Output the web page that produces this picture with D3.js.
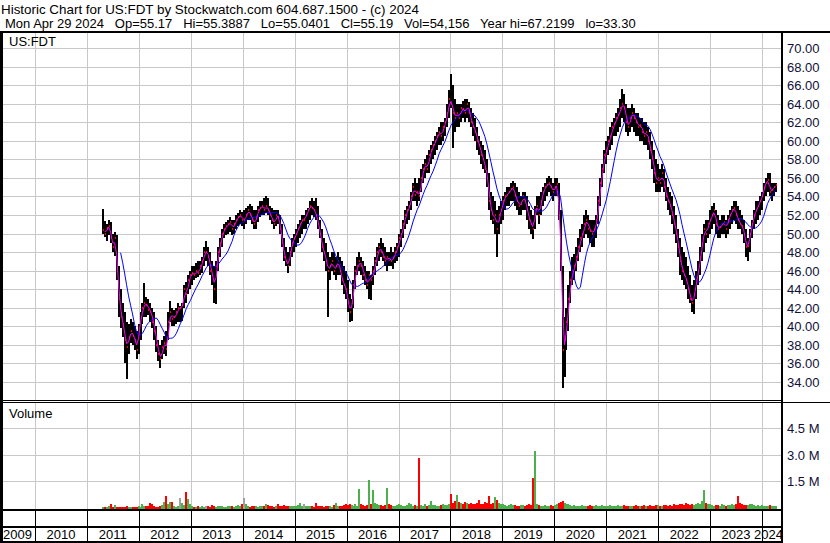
<!DOCTYPE html>
<html>
<head>
<meta charset="utf-8">
<script src="https://cdn.jsdelivr.net/npm/d3@7"></script>
<style>
  body { margin: 0; background: #fff; }
  svg { display: block; font-family: "Liberation Sans", Arial, sans-serif; }
  text { white-space: pre; }
</style>
</head>
<body>
<div class="main-container"></div>
<script>
const title = "Historic Chart for US:FDT by Stockwatch.com 604.687.1500 - (c) 2024";
const subtitle = "Mon Apr 29 2024   Op=55.17   Hi=55.3887   Lo=55.0401   Cl=55.19   Vol=54,156   Year hi=67.2199   lo=33.30";
const symbol = "US:FDT";

const yearLabels = ["2009","2010","2011","2012","2013","2014","2015","2016","2017","2018","2019","2020","2021","2022","2023","2024"];
const priceTicks = [34,36,38,40,42,44,46,48,50,52,54,56,58,60,62,64,66,68,70];
const volTicks = [1500000, 3000000, 4500000];
const volLabels = ["1.5 M", "3.0 M", "4.5 M"];

// one bar every two weeks from the first one
const firstBar = "2011-04-22";
const stepDays = 14;

const hi = [
  52.6,51.3,51.0,51.5,51.2,50.0,50.2,49.8,46.5,44.0,42.5,41.5,40.5,40.2,40.8,40.5,40.0,39.5,40.2,
  41.5,42.5,44.7,43.2,43.0,42.5,42.0,41.5,40.0,38.5,38.0,38.5,39.0,39.5,41.5,42.7,42.0,41.8,42.0,42.5,42.2,42.5,44.5,44.8,45.5,46.0,
  46.5,46.5,46.8,47.0,47.0,47.5,48.5,49.2,48.5,48.0,47.0,46.5,47.0,48.5,49.5,50.5,51.0,51.2,51.5,51.8,51.5,51.5,52.0,52.2,52.5,52.3,
  52.5,52.8,53.0,53.2,53.0,52.5,52.5,53.0,53.5,53.5,53.8,54.0,53.8,53.0,52.8,52.5,52.5,52.5,52.0,51.0,49.5,48.5,48.0,48.5,49.5,50.0,
  50.5,51.0,51.5,52.0,52.0,52.5,52.8,53.5,53.8,53.5,53.8,53.0,51.5,50.5,49.5,49.0,48.0,47.5,48.0,48.0,47.5,48.0,47.5,47.0,46.5,46.0,
  45.0,43.5,43.0,45.0,46.5,47.5,48.0,47.5,47.0,46.5,46.0,46.0,45.5,46.5,47.5,48.5,49.0,49.5,49.0,48.5,48.0,48.0,48.5,48.0,48.5,49.0,
  50.0,50.5,51.5,52.5,53.0,53.5,54.5,55.5,56.0,55.5,56.0,57.0,57.5,58.0,58.5,59.0,59.5,60.0,60.5,61.0,61.5,62.0,62.0,62.5,64.0,65.5,
  67.2,66.0,64.5,64.0,64.0,64.0,64.3,64.5,64.5,64.2,63.5,63.0,62.5,61.5,60.5,60.0,59.5,59.0,58.0,56.5,54.5,54.0,53.5,52.5,53.0,53.5,
  54.0,54.5,55.0,55.0,55.5,55.7,55.5,55.0,54.5,54.0,54.5,54.5,54.0,53.0,52.5,52.0,53.0,54.0,54.0,54.5,55.0,55.5,56.0,56.2,56.0,55.5,
  56.0,56.0,55.5,52.5,46.5,41.0,42.0,44.5,46.0,47.5,47.8,48.5,49.5,50.5,51.0,52.0,52.5,52.0,51.5,51.5,51.5,52.0,54.0,56.0,57.5,59.0,
  60.0,60.5,61.5,62.0,62.5,63.0,63.5,64.5,65.6,65.0,64.0,63.5,63.5,64.0,63.5,63.0,63.0,62.5,62.5,62.0,62.0,61.5,61.0,60.0,59.0,58.0,
  57.5,57.0,57.5,57.0,56.0,55.0,54.5,54.0,53.0,52.0,50.5,49.5,48.5,48.0,47.5,46.5,45.5,44.5,45.0,46.0,47.0,48.5,50.0,51.0,51.5,51.5,
  52.5,53.0,53.3,52.5,52.0,51.5,52.0,52.0,51.5,52.0,52.5,53.0,53.5,53.5,53.0,52.5,52.0,51.5,50.5,49.5,50.5,51.5,52.5,53.5,53.5,54.0,
  54.5,55.5,56.0,56.5,56.5,55.5,55.5,55.5
];
const lo = [
  50.0,49.6,49.2,49.8,49.0,48.0,47.6,45.0,41.0,39.8,38.8,36.0,34.3,37.0,38.2,38.0,37.5,36.5,37.0,
  38.5,40.2,41.0,41.0,41.2,40.5,39.8,38.5,37.2,36.3,35.5,36.5,37.0,36.8,38.5,40.5,40.0,40.0,40.2,40.5,40.5,40.6,42.0,42.5,43.5,44.0,
  44.5,45.0,45.2,45.3,45.5,45.8,46.5,47.0,46.5,45.5,44.5,42.5,42.4,46.0,47.5,48.5,49.5,49.8,50.0,50.2,49.8,50.0,50.5,50.8,51.0,50.8,
  50.5,51.0,51.5,51.5,51.0,50.5,50.5,51.2,51.8,52.0,52.0,52.2,52.0,51.5,51.0,50.5,50.8,51.0,50.0,48.5,47.0,46.5,45.8,46.5,47.5,48.0,
  48.5,49.0,49.5,50.0,50.5,50.5,51.0,51.5,52.0,51.8,51.5,50.5,49.5,48.0,47.0,46.0,41.0,45.0,46.0,45.5,45.0,45.5,45.5,44.5,43.5,43.0,
  41.5,40.5,40.6,42.0,44.0,45.5,46.0,45.5,45.0,44.5,44.0,43.0,42.8,44.5,45.5,46.5,47.0,47.5,47.0,46.5,46.0,46.5,46.5,46.2,46.8,47.0,
  47.5,48.5,49.5,50.5,51.0,51.5,52.5,53.5,53.5,53.0,53.5,54.5,55.5,56.0,56.5,56.5,57.5,58.0,58.5,59.0,59.5,59.5,60.0,60.5,61.5,62.5,
  63.5,59.2,61.0,61.5,61.5,62.0,62.5,62.0,62.5,62.0,61.5,60.5,60.0,59.0,58.5,57.5,57.0,56.5,55.0,52.5,51.5,51.0,50.0,47.5,50.0,51.0,
  51.5,52.5,53.0,53.0,53.5,53.5,53.0,52.5,52.0,52.0,52.5,52.5,51.5,50.5,50.0,49.4,50.5,52.0,51.0,52.0,53.0,53.5,54.0,54.5,54.0,53.5,
  54.0,54.0,51.5,46.0,33.3,34.5,37.5,39.5,42.5,44.5,45.0,46.0,47.0,48.0,48.5,49.5,50.0,49.5,49.0,48.5,48.5,49.5,51.0,53.0,55.0,56.5,
  57.5,58.5,59.0,59.5,60.5,60.5,61.0,61.5,62.5,62.0,61.0,60.5,61.0,61.5,61.0,60.5,60.5,60.0,60.0,59.5,59.5,59.0,58.0,57.0,55.5,54.5,
  54.5,54.5,55.0,54.5,53.5,52.5,52.0,51.0,50.0,49.0,47.5,45.5,45.0,44.5,44.0,43.0,42.5,41.5,41.3,43.0,44.5,45.5,47.0,48.0,49.0,49.5,
  50.0,50.5,51.0,50.0,49.5,49.5,50.0,50.0,49.5,50.0,50.5,51.0,51.5,51.0,50.5,50.5,50.0,49.0,47.5,47.0,48.0,49.5,50.5,51.0,51.5,52.0,
  52.5,53.5,54.0,54.5,54.0,53.5,54.0,54.5
];
const cl = [
  50.4,50.0,50.6,50.8,49.5,48.5,49.5,46.0,43.0,41.0,40.2,38.5,37.8,38.8,39.5,39.0,38.5,37.5,39.8,
  41.0,42.0,42.5,42.3,41.8,41.5,40.5,39.5,38.0,37.0,36.5,37.8,38.2,37.6,40.5,41.5,40.8,41.0,41.5,42.0,42.0,42.3,44.0,43.5,45.0,45.5,
  45.8,45.5,46.0,45.8,46.5,47.0,48.0,48.0,47.5,46.0,45.5,44.0,46.5,48.0,49.0,50.0,50.5,50.8,51.0,51.2,50.5,51.0,51.5,51.8,52.0,51.5,
  51.5,52.0,52.5,52.0,51.5,51.0,51.8,52.5,52.8,53.0,52.5,53.0,52.5,52.0,51.5,51.0,52.0,51.8,50.5,49.0,47.5,47.0,46.5,48.0,49.0,49.5,
  50.0,50.5,51.0,51.5,51.5,52.0,52.5,53.0,52.8,52.5,52.0,51.0,50.0,48.5,48.0,47.0,46.0,46.5,47.0,46.0,46.5,47.0,46.0,45.0,44.5,44.0,
  42.5,41.5,42.5,44.5,46.0,46.5,47.0,46.5,45.5,45.0,44.5,45.5,45.0,46.0,47.0,48.0,48.5,48.0,47.5,47.0,47.5,47.2,47.0,47.5,48.0,48.5,
  49.5,50.0,51.0,52.0,52.5,53.0,54.0,55.0,54.2,54.5,54.0,56.0,57.0,57.5,57.0,58.5,59.0,59.5,60.0,60.5,61.0,60.5,61.5,62.0,63.0,64.5,
  64.0,63.0,62.5,63.0,62.5,63.5,63.4,63.0,64.0,63.0,62.0,61.5,61.0,60.0,59.5,58.5,58.0,57.0,56.0,53.5,52.5,51.5,52.0,50.5,52.0,52.5,
  53.5,54.0,54.2,54.5,54.8,55.0,54.0,53.5,53.0,53.2,54.0,53.5,52.5,51.5,51.0,50.5,52.5,53.0,52.0,53.5,54.5,55.0,55.2,55.5,55.0,54.5,
  55.0,55.3,52.0,47.0,37.5,38.5,40.5,43.0,45.0,46.0,46.5,47.5,48.5,49.5,50.0,51.0,51.5,50.5,50.3,50.0,50.5,51.5,53.5,55.5,57.0,58.5,
  59.0,60.0,60.5,61.5,61.8,62.5,62.8,63.5,64.0,63.5,62.0,61.5,62.5,63.0,62.5,62.0,61.5,61.7,61.0,60.5,61.0,60.0,59.0,58.0,56.5,55.5,
  56.0,55.5,56.5,55.0,54.0,53.5,53.0,52.0,51.0,50.0,48.5,47.0,46.0,45.5,45.0,44.0,43.0,42.5,43.5,45.0,46.0,47.5,49.0,50.5,50.0,51.0,
  51.5,52.0,52.5,51.0,50.5,50.7,51.0,51.2,50.5,51.5,52.0,52.5,52.8,52.0,51.5,51.0,50.8,50.0,48.5,48.7,50.0,51.0,52.0,52.5,53.0,53.5,
  54.0,55.0,55.5,55.8,54.5,54.7,55.0,55.2
];
// volume in thousands of shares
const vol = [
  60,80,60,90,200,80,150,70,60,80,70,60,90,80,70,60,80,70,100,
  80,250,100,90,120,290,200,90,80,70,100,150,350,700,200,340,320,100,80,120,540,300,150,900,500,250,
  90,70,80,100,80,120,70,90,100,80,150,90,80,100,120,90,70,80,100,90,110,80,90,150,120,240,
  550,250,90,80,100,120,90,80,110,100,130,200,150,90,100,80,120,200,100,90,150,110,120,90,130,100,
  120,150,290,100,230,110,90,120,100,80,290,110,90,100,80,120,100,90,80,150,280,100,90,110,150,200,
  180,250,150,120,200,120,1050,200,150,120,150,1600,250,1040,300,200,150,180,120,150,1100,200,150,120,100,180,
  200,150,100,120,150,300,200,120,150,100,2800,150,120,200,130,150,400,180,150,120,100,150,200,150,180,250,
  800,300,400,750,350,300,250,350,300,200,300,250,200,300,460,200,250,350,300,700,250,300,600,450,300,250,
  200,150,120,150,200,180,150,120,100,150,180,120,150,200,150,1700,3200,200,150,120,100,150,120,100,150,120,
  150,200,300,350,400,300,250,200,150,120,150,100,120,100,150,120,100,120,150,100,120,150,100,120,150,130,
  120,100,150,120,100,130,150,120,100,150,120,100,130,120,100,150,120,100,130,150,100,120,150,130,120,150,
  150,120,100,150,180,120,150,130,200,150,180,250,200,150,300,200,180,250,150,200,300,250,400,1000,300,200,
  200,150,120,180,150,130,200,150,120,150,180,200,150,250,650,300,200,150,180,150,250,200,150,120,150,130,
  150,120,100,130,150,120,100,110
];

const width = 830, height = 543;
const plotL = 3, plotR = 781;
const priceTop = 33, priceBot = 400;
const volTop = 403, volBase = 509;

const start = new Date(firstBar + "T00:00:00Z");
const bars = cl.map((c, i) => ({
  date: d3.utcDay.offset(start, i * stepDays),
  hi: hi[i], lo: lo[i], cl: c, vol: vol[i] * 1000,
  dir: i === 0 ? 1 : Math.sign(c - cl[i - 1])
}));

function sma(n) {
  return bars.map((d, i) => i < n - 1 ? null :
    {date: d.date, v: d3.mean(cl.slice(i - n + 1, i + 1))});
}

const x = d3.scaleUtc()
  .domain([new Date(Date.UTC(2010, 0, 1)), new Date(Date.UTC(2024, 0, 1))])
  .range([35, 762]);
const y = d3.scaleLinear().domain([34, 70]).range([382, 48]);
const yv = d3.scaleLinear().domain([0, 4500000]).range([508, 428]);

const px = v => Math.round(v) + 0.5;

const svg = d3.select(".main-container")
  .append("svg")
  .attr("width", width)
  .attr("height", height);

svg.append("rect").attr("width", width).attr("height", height).attr("fill", "#fff");

// header
svg.append("text").attr("x", 1).attr("y", 14)
  .attr("font-size", 13.4).attr("fill", "#000").text(title);
svg.append("text").attr("x", 5).attr("y", 28)
  .attr("font-size", 13).attr("fill", "#000").text(subtitle);

const yearStarts = yearLabels.map(s => new Date(Date.UTC(+s, 0, 1)));
const gridYears = yearStarts.slice(1);

// grid
const grid = svg.append("g").attr("stroke", "#c8c8c8").attr("stroke-width", 1);
grid.selectAll("line.h").data(priceTicks).join("line")
  .attr("x1", plotL).attr("x2", plotR)
  .attr("y1", d => px(y(d))).attr("y2", d => px(y(d)));
grid.selectAll("line.hv").data(volTicks).join("line")
  .attr("x1", plotL).attr("x2", plotR)
  .attr("y1", d => px(yv(d))).attr("y2", d => px(yv(d)));
grid.selectAll("line.vp").data(gridYears).join("line")
  .attr("x1", d => px(x(d))).attr("x2", d => px(x(d)))
  .attr("y1", priceTop).attr("y2", priceBot);
grid.selectAll("line.vv").data(gridYears).join("line")
  .attr("x1", d => px(x(d))).attr("x2", d => px(x(d)))
  .attr("y1", volTop).attr("y2", volBase);

// price bars
svg.append("clipPath").attr("id", "pclip")
  .append("rect").attr("x", plotL).attr("y", priceTop)
  .attr("width", plotR - plotL).attr("height", priceBot - priceTop);

const price = svg.append("g").attr("clip-path", "url(#pclip)")
  .attr("shape-rendering", "crispEdges");

price.selectAll("rect.bar").data(bars).join("rect")
  .attr("x", d => Math.round(x(d.date)) - 1)
  .attr("width", 2)
  .attr("y", d => Math.round(y(d.hi)))
  .attr("height", d => Math.max(1, Math.round(y(d.lo)) - Math.round(y(d.hi))))
  .attr("fill", "#000");

price.selectAll("rect.tick").data(bars).join("rect")
  .attr("x", d => Math.round(x(d.date)))
  .attr("width", 1)
  .attr("y", d => Math.round(y(d.cl)) - 1)
  .attr("height", 2)
  .attr("fill", "#ff0000");

const line = d3.line()
  .defined(d => d !== null)
  .x(d => x(d.date))
  .y(d => y(d.v));

price.append("path")
  .datum(sma(10))
  .attr("fill", "none")
  .attr("stroke", "#0000ff")
  .attr("stroke-width", 1)
  .attr("shape-rendering", "auto")
  .attr("d", line);

price.append("path")
  .datum(sma(2))
  .attr("fill", "none")
  .attr("stroke", "#ff00ff")
  .attr("stroke-width", 1)
  .attr("shape-rendering", "auto")
  .attr("d", line);

// volume
const volColor = d => d.dir > 0 ? "#4cb04c" : d.dir < 0 ? "#ff0000" : "#a0a0a0";
svg.append("g").attr("shape-rendering", "crispEdges")
  .selectAll("rect").data(bars).join("rect")
  .attr("x", d => Math.round(x(d.date)) - 1)
  .attr("width", 2)
  .attr("y", d => Math.round(yv(d.vol)))
  .attr("height", d => volBase - Math.round(yv(d.vol)))
  .attr("fill", volColor);

// frame
const frame = svg.append("g").attr("fill", "#000").attr("shape-rendering", "crispEdges");
frame.append("rect").attr("x", 0).attr("y", 31).attr("width", width).attr("height", 2);
frame.append("rect").attr("x", 0).attr("y", 31).attr("width", 3).attr("height", height - 31);
frame.append("rect").attr("x", plotR).attr("y", 31).attr("width", 2).attr("height", height - 31);
frame.append("rect").attr("x", 0).attr("y", 400).attr("width", plotR + 2).attr("height", 1);
frame.append("rect").attr("x", 0).attr("y", 402).attr("width", width).attr("height", 1);
frame.append("rect").attr("x", 0).attr("y", volBase).attr("width", plotR + 2).attr("height", 2);
frame.append("rect").attr("x", 0).attr("y", 526).attr("width", plotR + 2).attr("height", 2);
frame.append("rect").attr("x", 0).attr("y", 541).attr("width", plotR + 2).attr("height", 2);
frame.selectAll("rect.yt").data(gridYears).join("rect")
  .attr("x", d => Math.round(x(d))).attr("y", 511).attr("width", 1).attr("height", 15);
frame.selectAll("rect.yl").data(gridYears).join("rect")
  .attr("x", d => Math.round(x(d))).attr("y", 528).attr("width", 1).attr("height", 13);

// labels
svg.append("text").attr("x", 9).attr("y", 46)
  .attr("font-size", 13).attr("fill", "#000").text(symbol);
svg.append("text").attr("x", 9).attr("y", 418)
  .attr("font-size", 13).attr("fill", "#000").text("Volume");

svg.append("g").selectAll("text").data(priceTicks).join("text")
  .attr("x", 787).attr("y", d => y(d) + 5)
  .attr("font-size", 13).attr("fill", "#10103a")
  .text(d => d.toFixed(2));

svg.append("g").selectAll("text").data(volTicks).join("text")
  .attr("x", 787).attr("y", d => yv(d) + 5)
  .attr("font-size", 13).attr("fill", "#10103a")
  .text((d, i) => volLabels[i]);

svg.append("g").selectAll("text").data(yearLabels).join("text")
  .attr("y", 539)
  .attr("font-size", 13)
  .attr("fill", "#000")
  .attr("text-anchor", "middle")
  .text(d => d)
  .each(function (d) {
    const a = x(new Date(Date.UTC(+d, 0, 1)));
    const b = x(new Date(Date.UTC(+d + 1, 0, 1)));
    const w = this.getComputedTextLength();
    let cx = (a + b) / 2;
    if (cx - w / 2 < 3) cx = 3 + w / 2;
    if (cx + w / 2 > plotR + 2) cx = plotR + 2 - w / 2;
    d3.select(this).attr("x", cx);
  });
</script>
</body>
</html>
